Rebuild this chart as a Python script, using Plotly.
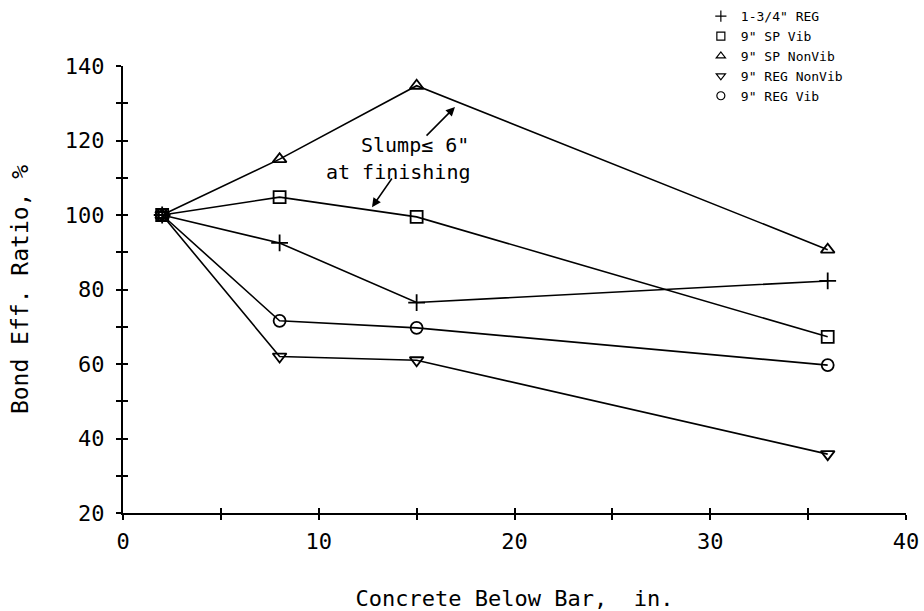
import plotly.graph_objects as go

# ---- data ----
depth_in = [2, 8, 15, 36]
reg_134 = [100, 92.5, 76.5, 82.3]
sp_vib = [100, 104.8, 99.5, 67.3]
sp_nonvib = [100, 115, 134.7, 90.7]
reg_nonvib = [100, 62, 61, 35.8]
reg_vib = [100, 71.6, 69.7, 59.7]

series_names = ['1-3/4" REG', '9" SP Vib', '9" SP NonVib', '9" REG NonVib', '9" REG Vib']
series_values = [reg_134, sp_vib, sp_nonvib, reg_nonvib, reg_vib]
series_symbols = ['cross-thin-open', 'square-open', 'triangle-up-open', 'triangle-down-open', 'circle-open']

x_tickvals = [0, 5, 10, 15, 20, 25, 30, 35, 40]
x_ticktext = ['0', '', '10', '', '20', '', '30', '', '40']
y_tickvals = [20, 30, 40, 50, 60, 70, 80, 90, 100, 110, 120, 130, 140]
y_ticktext = ['20', '', '40', '', '60', '', '80', '', '100', '', '120', '', '140']

FONT = 'DejaVu Sans Mono'
fig = go.Figure()

for name, vals, sym in zip(series_names, series_values, series_symbols):
    fig.add_trace(go.Scatter(
        x=depth_in, y=vals, mode='lines+markers', name=name, showlegend=False,
        line=dict(color='black', width=1.6),
        marker=dict(symbol=sym, size=12, color='black', line=dict(color='black', width=1.8)),
    ))
    # legend entry (symbol only)
    fig.add_trace(go.Scatter(
        x=[None], y=[None], mode='markers', name=name, showlegend=True,
        marker=dict(symbol=sym, size=8, color='black', line=dict(color='black', width=1.2)),
    ))

# empty trace on overlay axes to draw crossing ticks
fig.add_trace(go.Scatter(x=[], y=[], xaxis='x2', yaxis='y2', showlegend=False, hoverinfo='skip'))

fig.update_layout(
    width=924, height=611,
    margin=dict(l=123, r=18, t=66, b=98, autoexpand=False),
    paper_bgcolor='white', plot_bgcolor='white',
    font=dict(family=FONT, color='black', size=22),
    showlegend=True,
    legend=dict(
        x=0.738, y=1.145, xanchor='left', yanchor='top',
        font=dict(family=FONT, size=13, color='black'),
        bgcolor='rgba(0,0,0,0)', itemwidth=30, tracegroupgap=0,
    ),
    xaxis=dict(
        range=[0, 40], showgrid=False, zeroline=False,
        showline=True, linecolor='black', linewidth=2,
        tickmode='array', tickvals=x_tickvals, ticktext=x_ticktext,
        ticks='outside', ticklen=5, tickwidth=1.5, tickcolor='black',
        ticklabelstandoff=3,
        tickfont=dict(family=FONT, size=22),
        title=dict(text='Concrete Below Bar,  in.', standoff=39,
                   font=dict(family=FONT, size=22)),
    ),
    yaxis=dict(
        range=[20, 140], showgrid=False, zeroline=False,
        showline=True, linecolor='black', linewidth=2,
        tickmode='array', tickvals=y_tickvals, ticktext=y_ticktext,
        ticks='outside', ticklen=5, tickwidth=1.5, tickcolor='black',
        ticklabelstandoff=7,
        tickfont=dict(family=FONT, size=22),
        title=dict(text='Bond Eff. Ratio, %', standoff=30,
                   font=dict(family=FONT, size=23)),
    ),
    xaxis2=dict(
        range=[0, 40], overlaying='x', side='bottom', showgrid=False, zeroline=False,
        showline=False, tickmode='array', tickvals=x_tickvals, showticklabels=False,
        ticks='inside', ticklen=5, tickwidth=1.5, tickcolor='black',
    ),
    yaxis2=dict(
        range=[20, 140], overlaying='y', side='left', showgrid=False, zeroline=False,
        showline=False, tickmode='array', tickvals=y_tickvals, showticklabels=False,
        ticks='inside', ticklen=5, tickwidth=1.5, tickcolor='black',
    ),
)

# annotation text
fig.add_annotation(x=14.92, y=118.8, xref='x', yref='y', text='Slump≤ 6"', showarrow=False,
                   font=dict(family=FONT, size=20, color='black'))
fig.add_annotation(x=14.05, y=111.5, xref='x', yref='y', text='at finishing', showarrow=False,
                   font=dict(family=FONT, size=20, color='black'))
# arrows
fig.add_annotation(x=16.96, y=129, ax=15.43, ay=120.9, xref='x', yref='y', axref='x', ayref='y',
                   text='', showarrow=True, arrowhead=2, arrowsize=1.2, arrowwidth=1.5, arrowcolor='black')
fig.add_annotation(x=12.72, y=102.1, ax=13.79, ay=110.2, xref='x', yref='y', axref='x', ayref='y',
                   text='', showarrow=True, arrowhead=2, arrowsize=1.2, arrowwidth=1.5, arrowcolor='black')

fig.write_html('out.html')
